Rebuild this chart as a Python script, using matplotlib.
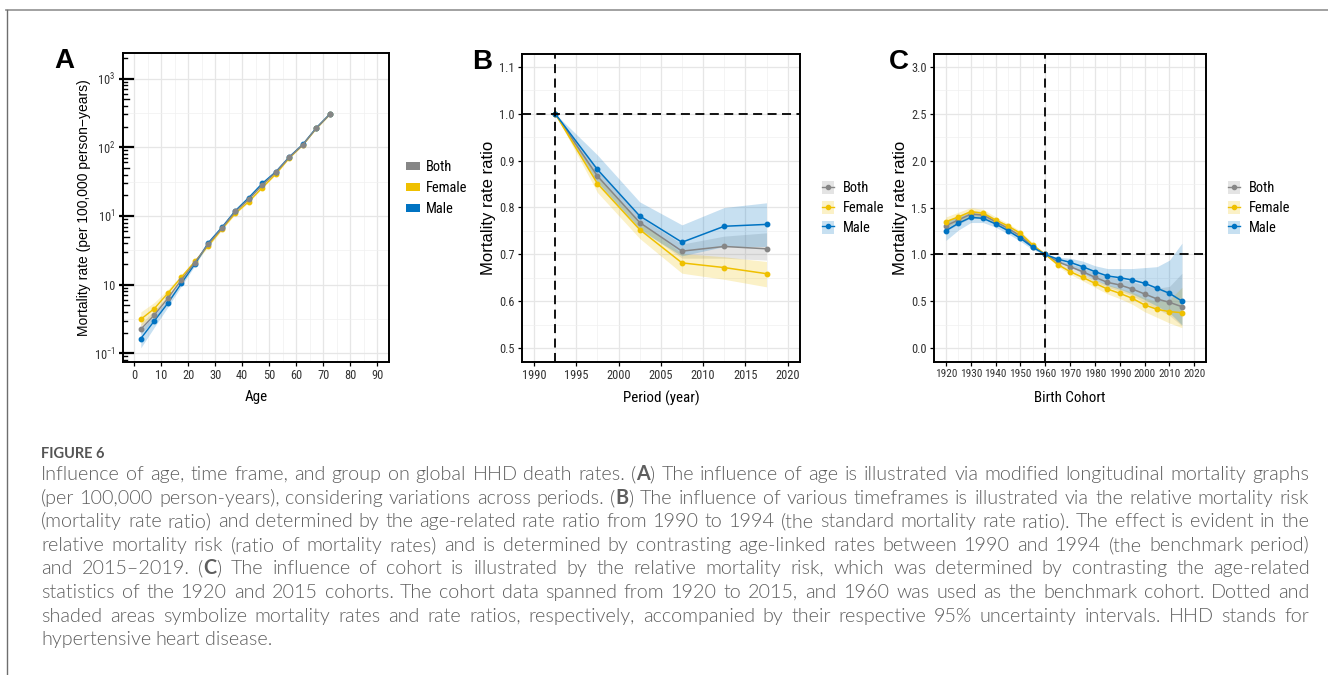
import re
import matplotlib
matplotlib.use("Agg")
import matplotlib.pyplot as plt
from matplotlib import font_manager
from matplotlib.patches import Patch
from matplotlib.lines import Line2D
from matplotlib.ticker import FixedLocator, NullFormatter

# ---------------- data ----------------
groups = ["Both", "Female", "Male"]
colors = {"Both": "#868686", "Female": "#EFC000", "Male": "#0073C2"}

# Panel A: age effect (per 100,000 person-years)
age = [2.5, 7.5, 12.5, 17.5, 22.5, 27.5, 32.5, 37.5, 42.5, 47.5, 52.5, 57.5, 62.5, 67.5, 72.5]
a_both = [0.224, 0.361, 0.63, 1.17, 2.09, 3.91, 6.6, 11.6, 17.5, 28.2, 43.2, 71.5, 109, 190, 302]
a_both_lo = [0.19, 0.31, 0.57, 1.10, 2.0, 3.8, 6.45, 11.35, 17.2, 27.7, 42.5, 70.4, 107.5, 187.5, 298]
a_both_hi = [0.27, 0.42, 0.70, 1.25, 2.18, 4.02, 6.75, 11.85, 17.8, 28.7, 43.9, 72.6, 110.5, 192.5, 306]
a_female = [0.313, 0.447, 0.748, 1.28, 2.17, 3.7, 6.4, 10.9, 16.2, 25.8, 40.8, 69.9, 108, 188, 300]
a_female_lo = [0.25, 0.37, 0.66, 1.18, 2.05, 3.55, 6.2, 10.6, 15.8, 25.2, 40.0, 68.5, 106, 185, 296]
a_female_hi = [0.40, 0.55, 0.85, 1.38, 2.30, 3.85, 6.6, 11.2, 16.6, 26.4, 41.6, 71.3, 110, 191, 304]
a_male = [0.164, 0.296, 0.535, 1.04, 1.99, 4.07, 6.8, 11.9, 18.5, 29.8, 44.0, 72.5, 110, 192, 304]
a_male_lo = [0.12, 0.24, 0.47, 0.95, 1.88, 3.93, 6.62, 11.6, 18.1, 29.2, 43.2, 71.4, 108.5, 189.5, 300]
a_male_hi = [0.22, 0.36, 0.61, 1.13, 2.10, 4.2, 6.98, 12.2, 18.9, 30.4, 44.8, 73.6, 111.5, 194.5, 308]

# Panel B: period effect (rate ratio)
period = [1992.5, 1997.5, 2002.5, 2007.5, 2012.5, 2017.5]
b_both = [1.0, 0.867, 0.768, 0.707, 0.717, 0.712]
b_both_lo = [1.0, 0.855, 0.756, 0.692, 0.692, 0.688]
b_both_hi = [1.0, 0.880, 0.780, 0.722, 0.739, 0.746]
b_female = [1.0, 0.851, 0.753, 0.682, 0.672, 0.659]
b_female_lo = [1.0, 0.832, 0.734, 0.660, 0.647, 0.631]
b_female_hi = [1.0, 0.869, 0.770, 0.702, 0.695, 0.685]
b_male = [1.0, 0.881, 0.782, 0.726, 0.760, 0.764]
b_male_lo = [1.0, 0.851, 0.752, 0.697, 0.717, 0.717]
b_male_hi = [1.0, 0.912, 0.812, 0.763, 0.800, 0.810]

# Panel C: cohort effect (rate ratio)
cohort = [1920, 1925, 1930, 1935, 1940, 1945, 1950, 1955, 1960, 1965,
          1970, 1975, 1980, 1985, 1990, 1995, 2000, 2005, 2010, 2015]
c_both = [1.307, 1.367, 1.43, 1.42, 1.349, 1.278, 1.197, 1.083, 1.0, 0.923,
          0.87, 0.817, 0.757, 0.703, 0.675, 0.632, 0.579, 0.526, 0.49, 0.444]
c_both_lo = [1.25, 1.32, 1.39, 1.38, 1.32, 1.25, 1.17, 1.07, 1.0, 0.90,
             0.84, 0.78, 0.71, 0.65, 0.61, 0.56, 0.49, 0.42, 0.35, 0.24]
c_both_hi = [1.36, 1.41, 1.47, 1.46, 1.38, 1.31, 1.22, 1.10, 1.0, 0.94,
             0.90, 0.86, 0.81, 0.76, 0.74, 0.71, 0.67, 0.64, 0.66, 0.80]
c_female = [1.349, 1.40, 1.456, 1.438, 1.367, 1.303, 1.225, 1.10, 1.0, 0.893,
            0.817, 0.757, 0.693, 0.632, 0.586, 0.533, 0.462, 0.416, 0.391, 0.38]
c_female_lo = [1.29, 1.35, 1.41, 1.40, 1.33, 1.27, 1.19, 1.08, 1.0, 0.87,
               0.79, 0.72, 0.65, 0.58, 0.53, 0.47, 0.39, 0.33, 0.27, 0.22]
c_female_hi = [1.40, 1.45, 1.50, 1.48, 1.40, 1.33, 1.25, 1.12, 1.0, 0.91,
               0.84, 0.79, 0.73, 0.68, 0.64, 0.60, 0.54, 0.50, 0.52, 0.65]
c_male = [1.253, 1.332, 1.395, 1.385, 1.325, 1.253, 1.172, 1.076, 1.0, 0.95,
          0.916, 0.87, 0.817, 0.771, 0.753, 0.728, 0.693, 0.64, 0.586, 0.504]
c_male_lo = [1.15, 1.26, 1.34, 1.34, 1.29, 1.22, 1.14, 1.05, 1.0, 0.92,
             0.87, 0.80, 0.73, 0.67, 0.63, 0.58, 0.52, 0.45, 0.38, 0.25]
c_male_hi = [1.36, 1.40, 1.45, 1.43, 1.36, 1.29, 1.20, 1.10, 1.0, 0.97,
             0.96, 0.93, 0.88, 0.85, 0.85, 0.85, 0.86, 0.87, 0.94, 1.12]

a_ticks = [0.1, 1, 10, 100, 1000]
a_ticklabels = [r"$10^{-1}$", "10", r"$10^{1}$", r"$10^{2}$", r"$10^{3}$"]
a_xticks = list(range(0, 100, 10))
b_xticks = list(range(1990, 2025, 5))
b_yticks = [0.5, 0.6, 0.7, 0.8, 0.9, 1.0, 1.1]
c_xticks = list(range(1920, 2030, 10))
c_yticks = [0.0, 0.5, 1.0, 1.5, 2.0, 2.5, 3.0]

caption_title = "FIGURE 6"
caption_lines = [
    "Influence of age, time frame, and group on global HHD death rates. (A) The influence of age is illustrated via modified longitudinal mortality graphs",
    "(per 100,000 person-years), considering variations across periods. (B) The influence of various timeframes is illustrated via the relative mortality risk",
    "(mortality rate ratio) and determined by the age-related rate ratio from 1990 to 1994 (the standard mortality rate ratio). The effect is evident in the",
    "relative mortality risk (ratio of mortality rates) and is determined by contrasting age-linked rates between 1990 and 1994 (the benchmark period)",
    "and 2015\u20132019. (C) The influence of cohort is illustrated by the relative mortality risk, which was determined by contrasting the age-related",
    "statistics of the 1920 and 2015 cohorts. The cohort data spanned from 1920 to 2015, and 1960 was used as the benchmark cohort. Dotted and",
    "shaded areas symbolize mortality rates and rate ratios, respectively, accompanied by their respective 95% uncertainty intervals. HHD stands for",
    "hypertensive heart disease.",
]

# ---------------- fonts ----------------
ttf = font_manager.fontManager.ttflist
names = {f.name for f in ttf}
NARROW = None
for cand in ["Liberation Sans Narrow", "Arial Narrow", "Roboto Condensed",
             "Noto Sans Condensed", "Open Sans Condensed", "Noto Sans SemiCondensed"]:
    if cand in names:
        NARROW = cand
        break
if NARROW is None:
    NARROW = "Liberation Sans"
REG = "Liberation Sans"
CAP = "Lato" if "Lato" in names else "DejaVu Sans"
cap_weights = {f.weight for f in ttf if f.name == CAP and f.style == "normal"}
CAP_BODY_WT = 300 if any(isinstance(w, int) and w <= 300 for w in cap_weights) else "normal"
plt.rcParams["font.family"] = [NARROW, "DejaVu Sans"]
plt.rcParams["mathtext.fontset"] = "custom"
plt.rcParams["mathtext.rm"] = NARROW
plt.rcParams["mathtext.it"] = NARROW
plt.rcParams["mathtext.bf"] = NARROW

W, H = 1328, 675
fig = plt.figure(figsize=(W / 100, H / 100), dpi=100)
renderer = fig.canvas.get_renderer()


def text_w(s, fs, family, weight="normal"):
    t = fig.text(0, 0, s, fontsize=fs, family=[family], fontweight=weight)
    w = t.get_window_extent(renderer).width
    t.remove()
    return w


def fit_size(s, target_px, family, lo, hi):
    w = text_w(s, 10, family)
    return max(lo, min(hi, 10 * target_px / w))


TICK_FS = fit_size("2020", 24, NARROW, 6.8, 9.5)
TICK_FS_C = fit_size("2020", 22, NARROW, 6.8, 9.5)
TITLE_FS = fit_size("Period (year)", 76, NARROW, 9.0, 11.5)
LEG_FS = fit_size("Female", 41, NARROW, 8.5, 10.5)


def box(l, t, r, b):
    return [l / W, 1 - b / H, (r - l) / W, (b - t) / H]


TICKC = "#333333"


def style(ax):
    for s in ax.spines.values():
        s.set_linewidth(1.4)
        s.set_color("black")
    ax.tick_params(axis="both", which="major", direction="out", length=3, width=0.9,
                   color="black", labelsize=TICK_FS, labelcolor=TICKC, pad=2.5)
    ax.grid(True, which="major", color="#E6E6E6", linewidth=0.9)
    ax.grid(True, which="minor", color="#F0F0F0", linewidth=0.5)
    ax.tick_params(which="minor", length=0)
    ax.set_axisbelow(True)


def xlab(ax, text, ycoord):
    ax.set_xlabel(text, fontsize=TITLE_FS, family=[NARROW], color="black")
    ax.xaxis.set_label_coords(0.5, ycoord)
    ax.xaxis.label.set_va("center")


def ylab(ax, text, xcoord, size):
    ax.set_ylabel(text, fontsize=size, family=[REG], color="black")
    ax.yaxis.set_label_coords(xcoord, 0.5)
    ax.yaxis.label.set_va("center")


# ---------------- Panel A ----------------
axA = fig.add_axes(box(122.7, 53.3, 389.3, 361.7))
style(axA)
axA.set_yscale("log")
axA.set_xlim(-4.2, 94.5)
axA.set_ylim(0.0755, 2327)
axA.set_xticks(a_xticks)
axA.xaxis.set_minor_locator(FixedLocator([x + 5 for x in a_xticks]))
axA.yaxis.set_major_locator(FixedLocator(a_ticks))
axA.yaxis.set_minor_locator(FixedLocator([10 ** (k + 0.5) for k in range(-2, 4)]))
axA.yaxis.set_minor_formatter(NullFormatter())
axA.set_yticklabels(a_ticklabels)
axA.tick_params(axis="y", which="major", length=3.0, width=1.6)

for k in range(-2, 4):
    for m in range(1, 10):
        v = m * 10 ** k
        if not (0.0755 < v < 2327):
            continue
        ln = 0.038 if m == 1 else (0.024 if m == 5 else 0.016)
        axA.axhline(v, xmin=0, xmax=ln, color="black", lw=1.6 if m == 1 else 1.0, zorder=5)

series_a = [
    ("Both", a_both, a_both_lo, a_both_hi),
    ("Female", a_female, a_female_lo, a_female_hi),
    ("Male", a_male, a_male_lo, a_male_hi),
]
for name, v, lo, hi in series_a:
    axA.fill_between(age, lo, hi, color=colors[name], alpha=0.22, lw=0)
for name, v, lo, hi in [series_a[1], series_a[2], series_a[0]]:
    axA.plot(age, v, color=colors[name], lw=1.0, marker="o", ms=3.2, zorder=4)

xlab(axA, "Age", -(397 - 361.7) / 308.4)
ylab(axA, "Mortality rate (per 100,000 person\u2212years)", (84 - 122.7) / 266.6, 10)

# ---------------- Panel B ----------------
axB = fig.add_axes(box(522, 54, 800, 361.7))
style(axB)
axB.set_xlim(1988.58, 2021.46)
axB.set_ylim(0.4715, 1.127)
axB.set_xticks(b_xticks)
axB.set_yticks(b_yticks)
axB.set_yticklabels([f"{v:.1f}" for v in b_yticks])
axB.xaxis.set_minor_locator(FixedLocator([x + 2.5 for x in b_xticks]))
axB.yaxis.set_minor_locator(FixedLocator([y + 0.05 for y in b_yticks]))
series_b = [
    ("Both", b_both, b_both_lo, b_both_hi),
    ("Female", b_female, b_female_lo, b_female_hi),
    ("Male", b_male, b_male_lo, b_male_hi),
]
for name, v, lo, hi in series_b:
    axB.fill_between(period, lo, hi, color=colors[name], alpha=0.22, lw=0)
for name, v, lo, hi in series_b:
    axB.plot(period, v, color=colors[name], lw=1.1, marker="o", ms=3.2, zorder=4)
axB.axvline(period[0], color="black", lw=1.3, ls=(0, (5, 3)), zorder=6)
axB.axhline(1.0, color="black", lw=1.3, ls=(0, (5, 3)), zorder=6)
xlab(axB, "Period (year)", -(398 - 361.7) / 307.7)
ylab(axB, "Mortality rate ratio", (489 - 522) / 278, 12)

# ---------------- Panel C ----------------
axC = fig.add_axes(box(934.3, 54, 1206, 361.7))
style(axC)
axC.set_xlim(1915.3, 2024.7)
axC.set_ylim(-0.142, 3.135)
axC.set_xticks(c_xticks)
axC.set_yticks(c_yticks)
axC.set_yticklabels([f"{v:.1f}" for v in c_yticks])
axC.tick_params(axis="x", labelsize=TICK_FS_C)
axC.xaxis.set_minor_locator(FixedLocator([x + 5 for x in c_xticks]))
axC.yaxis.set_minor_locator(FixedLocator([y + 0.25 for y in c_yticks]))
series_c = [
    ("Both", c_both, c_both_lo, c_both_hi),
    ("Female", c_female, c_female_lo, c_female_hi),
    ("Male", c_male, c_male_lo, c_male_hi),
]
for name, v, lo, hi in series_c:
    axC.fill_between(cohort, lo, hi, color=colors[name], alpha=0.22, lw=0)
for name, v, lo, hi in series_c:
    axC.plot(cohort, v, color=colors[name], lw=1.1, marker="o", ms=3.2, zorder=4)
axC.axvline(1960, color="black", lw=1.3, ls=(0, (5, 3)), zorder=6)
axC.axhline(1.0, color="black", lw=1.3, ls=(0, (5, 3)), zorder=6)
xlab(axC, "Birth Cohort", -(398 - 361.7) / 307.7)
ylab(axC, "Mortality rate ratio", (900 - 934.3) / 271.7, 12)

# ---------------- legends ----------------
hA = [Patch(facecolor=colors[g], edgecolor="none") for g in groups]
fig.legend(hA, groups, loc="center left", bbox_to_anchor=(406 / W, 1 - 188 / H),
           frameon=False, borderpad=0, borderaxespad=0, handlelength=0.95,
           handleheight=0.5, handletextpad=0.45, labelspacing=0.5,
           prop={"family": NARROW, "size": LEG_FS})


def lc_handles():
    hs = []
    for g in groups:
        p = Patch(facecolor=colors[g], alpha=0.22, edgecolor="none")
        l = Line2D([], [], color=colors[g], lw=1.0, marker="o", ms=3)
        hs.append((p, l))
    return hs


for xk in (822, 1228):
    fig.legend(lc_handles(), groups, loc="center left", bbox_to_anchor=(xk / W, 1 - 208 / H),
               frameon=False, borderpad=0, borderaxespad=0, handlelength=0.85,
               handleheight=1.05, handletextpad=0.6, labelspacing=0.38,
               prop={"family": NARROW, "size": LEG_FS})

# ---------------- panel letters ----------------
for letter, x, y in (("A", 64, 61), ("B", 482, 62), ("C", 899, 62)):
    fig.text(x / W, 1 - y / H, letter, fontsize=20, fontweight="bold", family=[REG],
             ha="center", va="center", color="black")

# ---------------- frame ----------------
fig.add_artist(Line2D([6 / W, 1], [1 - 9.5 / H, 1 - 9.5 / H], transform=fig.transFigure,
                      color="#9A9A9A", lw=1.3))
fig.add_artist(Line2D([7 / W, 7 / W], [1 - 9.5 / H, 0], transform=fig.transFigure,
                      color="#6E6E6E", lw=1.0))

# ---------------- caption (justified, word by word) ----------------
CAPC = "#5E5E5E"
fig.text(41 / W, 1 - 457.5 / H, caption_title, fontsize=10.5, fontweight="bold",
         family=[CAP], color="#555555", ha="left", va="baseline")


def tokens(word):
    m = re.fullmatch(r"\(([ABC])\)(.*)", word)
    if m:
        return [("(", CAP_BODY_WT), (m.group(1), "bold"), (")" + m.group(2), CAP_BODY_WT)]
    return [(word, CAP_BODY_WT)]


x0, x1 = 41.0, 1309.0
avail_w = x1 - x0
fs0 = 11.0
space0 = text_w("a a", fs0, CAP, CAP_BODY_WT) - text_w("aa", fs0, CAP, CAP_BODY_WT)
nat = []
for line in caption_lines:
    ws = line.split(" ")
    tw = sum(text_w(s, fs0, CAP, wt) for w in ws for s, wt in tokens(w))
    nat.append(tw + space0 * (len(ws) - 1))
fs = fs0 * 0.985 * avail_w / max(nat)
scale = fs / fs0

base_y0 = 480.0
line_gap = 23.6
for i, line in enumerate(caption_lines):
    ws = line.split(" ")
    widths = [sum(text_w(s, fs0, CAP, wt) for s, wt in tokens(w)) * scale for w in ws]
    last = i == len(caption_lines) - 1
    if last or len(ws) == 1:
        gap = space0 * scale
    else:
        gap = (avail_w - sum(widths)) / (len(ws) - 1)
    x = x0
    yb = 1 - round(base_y0 + i * line_gap) / H
    for w, wd in zip(ws, widths):
        xx = x
        for s, wt in tokens(w):
            fig.text(xx / W, yb, s, fontsize=fs, family=[CAP], fontweight=wt,
                     color=CAPC, ha="left", va="baseline")
            xx += text_w(s, fs0, CAP, wt) * scale
        x += wd + gap

fig.savefig("out.png", dpi=100)
